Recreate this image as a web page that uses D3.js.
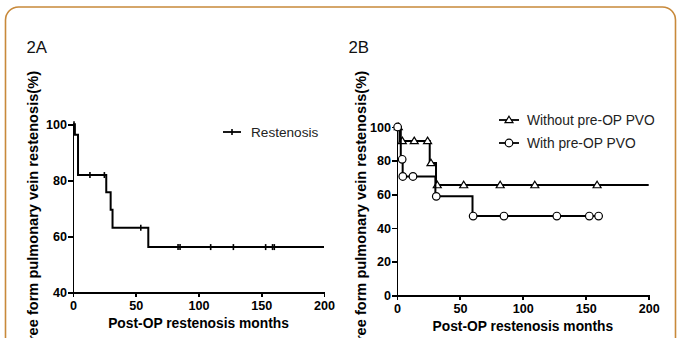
<!DOCTYPE html>
<html>
<head>
<meta charset="utf-8">
<script src="https://cdn.jsdelivr.net/npm/d3@7"></script>
<style>
  html, body { margin: 0; padding: 0; background: #fff; }
  svg { display: block; font-family: "Liberation Sans", Arial, sans-serif; }
  .axis path, .axis line { stroke: #000; stroke-width: 1.9; shape-rendering: crispEdges; }
  .axis text { font-size: 12.6px; font-weight: bold; fill: #000; font-family: "Liberation Sans", Arial, sans-serif; }
</style>
</head>
<body>
<svg id="chart" width="677" height="338"></svg>
<script>
// ---------- data ----------
const xTicks = [0, 50, 100, 150, 200];
const yTicksA = [40, 60, 80, 100];
const yTicksB = [0, 20, 40, 60, 80, 100];

// Panel 2A: Restenosis (Kaplan-Meier steps)
const restTimes = [0, 1.5, 4.0, 26.5, 30.0, 31.5, 60.0, 200];
const restSurv  = [100, 96.3, 81.9, 75.8, 69.5, 63.1, 56.2, 56.2];
const restCensor = [0.8, 13.5, 25, 54, 83.7, 85.3, 109.7, 127.8, 153.5, 159, 160.4];

// Panel 2B: Without pre-OP PVO
const woTimes = [0, 2.0, 26.0, 31.0, 200];
const woSurv  = [100, 91.7, 78.6, 65.5, 65.5];
const woCensor = [1, 4.2, 13.7, 24.3, 27, 32, 53, 82, 109.5, 159];

// Panel 2B: With pre-OP PVO
const wTimes = [0, 3.0, 4.5, 30.5, 60.0, 160.2];
const wSurv  = [100, 80.8, 70.6, 58.8, 47.1, 47.1];
const wCensor = [0.5, 4.1, 4.6, 12.7, 31.2, 60.5, 85, 127, 152.8, 160.2];

const labelY = "Free form pulmonary vein restenosis(%)";
const labelX = "Post-OP restenosis months";

// ---------- helpers ----------
const svg = d3.select("#chart");

svg.append("rect")
  .attr("x", 5.5).attr("y", 7)
  .attr("width", 670).attr("height", 400)
  .attr("rx", 13).attr("ry", 13)
  .attr("fill", "none")
  .attr("stroke", "#c8893a")
  .attr("stroke-width", 1.6);

function survAt(times, surv, t) {
  let v = surv[0];
  for (let i = 0; i < times.length; i++) { if (times[i] <= t) v = surv[i]; }
  return v;
}

function drawPanel(opt) {
  const g = svg.append("g");
  const x = d3.scaleLinear().domain([0, 200]).range(opt.xr);
  const y = d3.scaleLinear().domain(opt.yd).range(opt.yr);

  g.append("g").attr("class", "axis")
    .attr("transform", `translate(0,${opt.yr[0]})`)
    .call(d3.axisBottom(x).tickValues(xTicks).tickSize(4.5).tickSizeOuter(0).tickPadding(4));
  g.append("g").attr("class", "axis")
    .attr("transform", `translate(${opt.xr[0]},0)`)
    .call(d3.axisLeft(y).tickValues(opt.yTicks).tickSize(5).tickSizeOuter(0).tickPadding(1));

  // titles
  g.append("text").attr("x", opt.titleX).attr("y", 52.5)
    .attr("font-size", 16.8).attr("fill", "#111").text(opt.title);
  g.append("text")
    .attr("transform", `translate(${opt.ylabX},71) rotate(-90)`)
    .attr("text-anchor", "end")
    .attr("font-size", 14.6).attr("font-weight", "bold").attr("fill", "#000")
    .text(labelY);
  g.append("text")
    .attr("x", (opt.xr[0] + opt.xr[1]) / 2).attr("y", opt.xlabY)
    .attr("text-anchor", "middle")
    .attr("font-size", 13.8).attr("font-weight", "bold").attr("fill", "#000")
    .text(labelX);

  const line = d3.line().x(d => x(d[0])).y(d => y(d[1])).curve(d3.curveStepAfter);
  opt.series.forEach(s => {
    const pts = s.times.map((t, i) => [t, s.surv[i]]);
    g.append("path").attr("d", line(pts))
      .attr("fill", "none").attr("stroke", "#000").attr("stroke-width", 2);
    const cg = g.append("g");
    s.censor.forEach(t => {
      const cx = x(t), cy = y(survAt(s.times, s.surv, t));
      drawMarker(cg, s.marker, cx, cy);
    });
  });
  return { x, y, g };
}

function drawMarker(g, type, cx, cy) {
  if (type === "tick") {
    g.append("line").attr("x1", cx).attr("x2", cx).attr("y1", cy - 3).attr("y2", cy + 3)
      .attr("stroke", "#000").attr("stroke-width", 1.6);
  } else if (type === "tri") {
    g.append("path")
      .attr("d", `M${cx},${cy - 3.8}L${cx + 4},${cy + 2.7}L${cx - 4},${cy + 2.7}Z`)
      .attr("fill", "#fff").attr("stroke", "#000").attr("stroke-width", 1.2);
  } else {
    g.append("circle").attr("cx", cx).attr("cy", cy).attr("r", 3.8)
      .attr("fill", "#fff").attr("stroke", "#000").attr("stroke-width", 1.2);
  }
}

// Panel A
drawPanel({
  xr: [73, 324], yd: [40, 100], yr: [292.5, 124.3], yTicks: yTicksA,
  title: "2A", titleX: 26.5, ylabX: 38, xlabY: 328,
  series: [{ times: restTimes, surv: restSurv, censor: restCensor, marker: "tick" }]
});

// Panel B
drawPanel({
  xr: [397, 648.7], yd: [0, 100], yr: [295.3, 127], yTicks: yTicksB,
  title: "2B", titleX: 348.5, ylabX: 366, xlabY: 330.5,
  series: [
    { times: woTimes, surv: woSurv, censor: woCensor, marker: "tri" },
    { times: wTimes, surv: wSurv, censor: wCensor, marker: "circ" }
  ]
});

// Legends
const legA = svg.append("g");
legA.append("line").attr("x1", 223).attr("x2", 241).attr("y1", 132).attr("y2", 132)
  .attr("stroke", "#000").attr("stroke-width", 1.8);
drawMarker(legA, "tick", 232, 132);
legA.append("text").attr("x", 251).attr("y", 137).attr("font-size", 13.6).attr("fill", "#222").text("Restenosis");

const legB = svg.append("g");
[["tri", 120, 125, "Without pre-OP PVO"], ["circ", 143, 148, "With pre-OP PVO"]].forEach(([m, ly, ty, txt]) => {
  legB.append("line").attr("x1", 499).attr("x2", 519).attr("y1", ly).attr("y2", ly)
    .attr("stroke", "#000").attr("stroke-width", 1.8);
  drawMarker(legB, m, 509, ly);
  legB.append("text").attr("x", 527).attr("y", ty).attr("font-size", 13.8).attr("fill", "#222").text(txt);
});
</script>
</body>
</html>
